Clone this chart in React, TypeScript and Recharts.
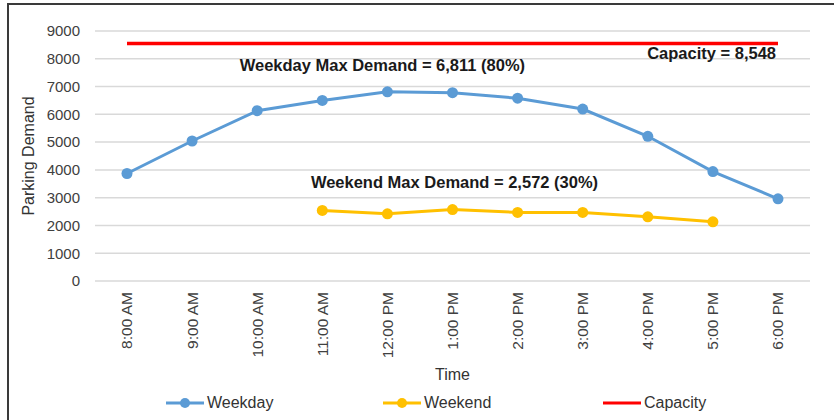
import React from 'react'
import {
  LineChart,
  Line,
  XAxis,
  YAxis,
  CartesianGrid,
  Legend,
  ReferenceDot,
} from 'recharts'

const times = [
  '8:00 AM',
  '9:00 AM',
  '10:00 AM',
  '11:00 AM',
  '12:00 PM',
  '1:00 PM',
  '2:00 PM',
  '3:00 PM',
  '4:00 PM',
  '5:00 PM',
  '6:00 PM',
]
const weekday = [3870, 5040, 6130, 6500, 6811, 6780, 6580, 6190, 5210, 3940, 2960]
const weekend = [null, null, null, 2540, 2420, 2572, 2470, 2470, 2310, 2130, null]
const capacity = 8548
const yTicks = [0, 1000, 2000, 3000, 4000, 5000, 6000, 7000, 8000, 9000]

const data = times.map((t, i) => ({
  time: t,
  weekday: weekday[i],
  weekend: weekend[i],
  capacity,
}))

const FONT = '"Liberation Sans", Arial, sans-serif'
const BLUE = '#5b9bd5'
const GOLD = '#ffc000'
const RED = '#ff0000'

const XTick = (props: any) => {
  const { x, y, payload } = props
  return (
    <text
      x={x}
      y={y}
      transform={`rotate(-90, ${x}, ${y})`}
      textAnchor="end"
      dy="0.35em"
      style={{ fontSize: 15.5, fontFamily: FONT }}
      fill="#404040"
    >
      {payload.value}
    </text>
  )
}

const note = (text: string, anchor: 'middle' | 'end', dx: number) => (props: any) => {
  const { viewBox } = props
  return (
    <text
      x={viewBox.x + dx}
      y={viewBox.y}
      dy="0.35em"
      textAnchor={anchor}
      style={{ fontSize: 16.5, fontWeight: 'bold', fontFamily: FONT }}
      fill="#1a1a1a"
    >
      {text}
    </text>
  )
}

const legendItems = [
  { name: 'Weekday', color: BLUE, dot: true, left: 165 },
  { name: 'Weekend', color: GOLD, dot: true, left: 382 },
  { name: 'Capacity', color: RED, dot: false, left: 602 },
]

const LegendBox = () => (
  <div style={{ position: 'relative', height: 34, fontFamily: FONT }}>
    {legendItems.map((it) => (
      <div
        key={it.name}
        style={{ position: 'absolute', left: it.left, top: 8, display: 'flex', alignItems: 'center' }}
      >
        <svg width={40} height={14}>
          <line x1={1} y1={7} x2={39} y2={7} stroke={it.color} strokeWidth={3} />
          {it.dot && <circle cx={20} cy={7} r={5} fill={it.color} />}
        </svg>
        <span style={{ fontSize: 16, color: '#333', marginLeft: 2 }}>{it.name}</span>
      </div>
    ))}
  </div>
)

export default function App() {
  return (
    <div style={{ position: 'absolute', left: 0, top: 0, width: 834, height: 420, background: '#fff' }}>
      <div
        style={{
          position: 'absolute',
          left: 7,
          top: 3,
          width: 825,
          height: 417,
          borderTop: '2px solid #3a3a3a',
          borderLeft: '2px solid #3a3a3a',
        }}
      />
      <div style={{ position: 'absolute', left: 0, top: 0 }}>
        <LineChart width={834} height={420} data={data} margin={{ top: 31, right: 24, left: 0, bottom: 0 }}>
          <CartesianGrid vertical={false} stroke="#d9d9d9" strokeWidth={1.5} />
          <XAxis
            dataKey="time"
            axisLine={false}
            tickLine={false}
            interval={0}
            height={105}
            padding={{ left: 32, right: 32 }}
            tick={<XTick />}
            tickSize={0}
            tickMargin={11}
            label={{
              value: 'Time',
              position: 'insideBottom',
              offset: 6,
              fontSize: 16,
              fontFamily: FONT,
              fill: '#333',
            }}
          />
          <YAxis
            domain={[0, 9000]}
            ticks={yTicks}
            width={95}
            axisLine={false}
            tickLine={false}
            tickSize={0}
            tickMargin={15}
            tick={{ fontSize: 15, fontFamily: FONT, fill: '#404040' }}
            label={{
              value: 'Parking Demand',
              angle: -90,
              position: 'center',
              dx: -19,
              fontSize: 16,
              fontFamily: FONT,
              fill: '#333',
            }}
          />
          <Legend verticalAlign="bottom" height={34} content={<LegendBox />} wrapperStyle={{ left: 0, width: 834 }} />
          <Line
            dataKey="capacity"
            name="Capacity"
            stroke={RED}
            strokeWidth={3.5}
            dot={false}
            isAnimationActive={false}
          />
          <Line
            dataKey="weekday"
            name="Weekday"
            stroke={BLUE}
            strokeWidth={3}
            dot={{ r: 5.5, fill: BLUE, stroke: 'none' }}
            isAnimationActive={false}
          />
          <Line
            dataKey="weekend"
            name="Weekend"
            stroke={GOLD}
            strokeWidth={3}
            dot={{ r: 5.5, fill: GOLD, stroke: 'none' }}
            isAnimationActive={false}
          />
          <ReferenceDot
            x="12:00 PM"
            y={7760}
            r={0}
            stroke="none"
            label={note('Weekday Max Demand = 6,811 (80%)', 'middle', -5)}
          />
          <ReferenceDot
            x="1:00 PM"
            y={3560}
            r={0}
            stroke="none"
            label={note('Weekend Max Demand = 2,572 (30%)', 'middle', 2)}
          />
          <ReferenceDot
            x="6:00 PM"
            y={8210}
            r={0}
            stroke="none"
            label={note('Capacity = 8,548', 'end', -2)}
          />
        </LineChart>
      </div>
    </div>
  )
}
